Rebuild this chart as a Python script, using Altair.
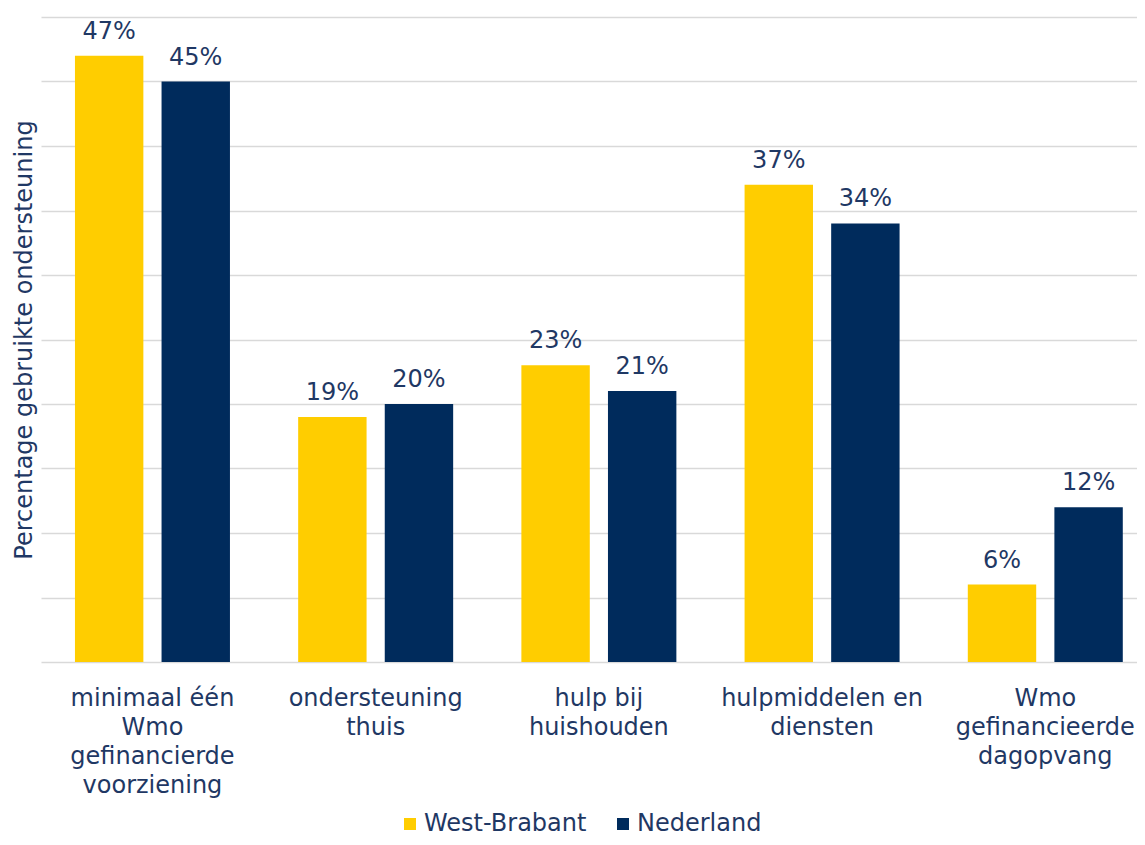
import json
import altair as alt
import pandas as pd

categories = [
    "minimaal één Wmo gefinancierde voorziening",
    "ondersteuning thuis",
    "hulp bij huishouden",
    "hulpmiddelen en diensten",
    "Wmo gefinancieerde dagopvang",
]
label_lines = [
    ["minimaal één", "Wmo", "gefinancierde", "voorziening"],
    ["ondersteuning", "thuis"],
    ["hulp bij", "huishouden"],
    ["hulpmiddelen en", "diensten"],
    ["Wmo", "gefinancieerde", "dagopvang"],
]
series = ["West-Brabant", "Nederland"]
west_brabant = [47, 19, 23, 37, 6]
nederland = [45, 20, 21, 34, 12]

colors = ["#FFCD00", "#002B5C"]
text_color = "#1F3864"
font = "DejaVu Sans"
fs = 24

rows = []
for i, c in enumerate(categories):
    rows.append({"categorie": c, "regio": series[0], "waarde": west_brabant[i]})
    rows.append({"categorie": c, "regio": series[1], "waarde": nederland[i]})
df = pd.DataFrame(rows)

label_map = {c: l for c, l in zip(categories, label_lines)}
label_expr = json.dumps(label_map, ensure_ascii=False) + "[datum.label]"

x = alt.X(
    "categorie:N",
    sort=categories,
    scale=alt.Scale(paddingInner=0.3056, paddingOuter=0.1079, align=0.705),
    axis=alt.Axis(
        title=None,
        labelAngle=0,
        labelExpr=label_expr,
        labelFontSize=fs,
        labelFont=font,
        labelColor=text_color,
        labelLineHeight=29,
        labelPadding=24,
        labelLimit=0,
        labelOverlap=False,
        ticks=False,
        domain=False,
        grid=False,
    ),
)
xoff = alt.XOffset("regio:N", sort=series, scale=alt.Scale(paddingInner=0.21, paddingOuter=0))
y = alt.Y(
    "waarde:Q",
    scale=alt.Scale(domain=[0, 50], nice=False),
    axis=alt.Axis(
        title="Percentage gebruikte ondersteuning",
        titleFontSize=fs,
        titleFont=font,
        titleFontWeight="normal",
        titleColor=text_color,
        titleAngle=270,
        titleX=-17,
        titleY=322.5,
        titleAlign="center",
        titleBaseline="middle",
        labels=False,
        ticks=False,
        domain=False,
        grid=True,
        gridColor="#D9D9D9",
        gridWidth=1.5,
        values=[0, 5, 10, 15, 20, 25, 30, 35, 40, 45, 50],
    ),
)

bars = alt.Chart(df).mark_bar().encode(
    x=x,
    xOffset=xoff,
    y=y,
    color=alt.Color(
        "regio:N",
        sort=series,
        scale=alt.Scale(domain=series, range=colors),
        legend=alt.Legend(
            title=None,
            orient="none",
            direction="horizontal",
            legendX=357,
            legendY=795,
            symbolType="square",
            symbolSize=144,
            symbolStrokeWidth=0,
            symbolOpacity=1,
            labelFontSize=fs,
            labelFont=font,
            labelColor=text_color,
            labelOffset=2,
            labelLimit=0,
            columnPadding=24,
            padding=0,
        ),
    ),
)

labels = alt.Chart(df).mark_text(
    baseline="alphabetic", dy=-17, fontSize=fs, font=font, color=text_color
).encode(
    x=alt.X("categorie:N", sort=categories),
    xOffset=alt.XOffset("regio:N", sort=series),
    y=alt.Y("waarde:Q"),
    text=alt.Text("label:N"),
).transform_calculate(label="datum.waarde + '%'")

chart = (
    alt.layer(bars, labels)
    .properties(
        width=1096,
        height=645,
        autosize=alt.AutoSizeParams(type="none"),
        padding={"left": 33, "top": 9, "right": 0, "bottom": 176},
        background="white",
    )
    .configure_view(stroke=None)
)

chart.save("out.html", embed_options={"renderer": "svg", "actions": False})
